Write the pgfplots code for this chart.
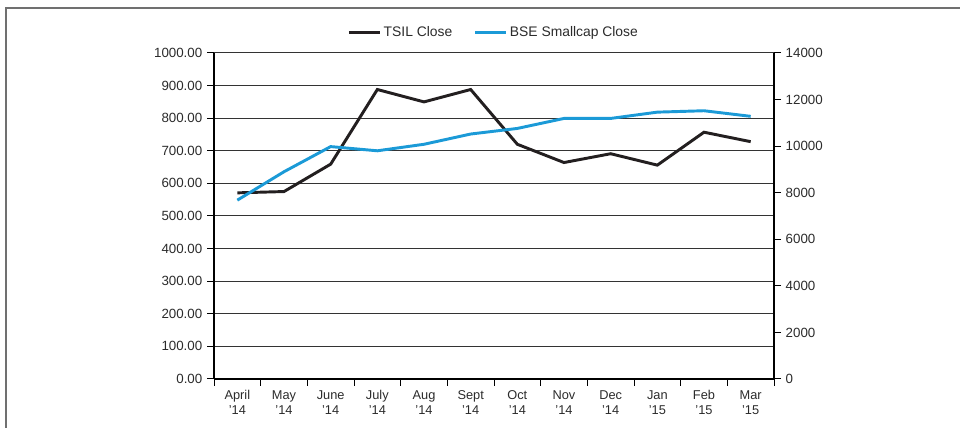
\documentclass[border=0pt]{standalone}
\usepackage{pgfplots}
\pgfplotsset{compat=1.18}
\usepackage{fontspec}
\setmainfont{Liberation Sans}
\definecolor{tsil}{HTML}{231F20}
\definecolor{bse}{HTML}{1B9AD7}
\definecolor{txt}{HTML}{2B2B2B}
\definecolor{frame}{HTML}{707070}
\begin{document}
\begin{tikzpicture}
\begin{scope}[x=0.75pt,y=0.75pt]
\useasboundingbox (0,0) rectangle (960,428);
\draw[color=frame, line width=1.5pt] (6,0) -- (6,420) -- (960,420);
\end{scope}
\begin{axis}[
  at={(160.5pt,36.75pt)}, anchor=south west,
  scale only axis, width=420pt, height=244.5pt,
  xmin=0.5, xmax=12.5, ymin=0, ymax=1000,
  axis x line*=bottom, axis y line*=left,
  axis line style={line width=0.9pt, black},
  xtick={0.5,1.5,...,12.5},
  x tick label as interval=true,
  xticklabels={{April\\’14},{May\\’14},{June\\’14},{July\\’14},{Aug\\’14},{Sept\\’14},{Oct\\’14},{Nov\\’14},{Dec\\’14},{Jan\\’15},{Feb\\’15},{Mar\\’15}},
  xticklabel style={align=center, font=\fontsize{9.6pt}{11.2pt}\selectfont, text=txt},
  ytick={0,100,...,1000},
  yticklabel style={font=\fontsize{10pt}{11pt}\selectfont, text=txt},
  scaled y ticks=false,
  /pgf/number format/.cd, fixed, fixed zerofill, precision=2, 1000 sep={}, assume math mode=true,
  /pgfplots/.cd,
  tick align=outside, major tick length=5.25pt,
  tick style={black, line width=0.75pt},
  ymajorgrids, grid style={color=black!80, line width=0.75pt},
  legend columns=2,
  legend style={at={(0.5,1)}, anchor=south, yshift=7pt, draw=none, fill=none,
    font=\fontsize{10.4pt}{11pt}\selectfont, text=txt,
    /tikz/every even column/.append style={column sep=14pt}},
  legend image code/.code={\draw[#1] (0pt,0pt) -- (23pt,0pt);},
]
\addplot[tsil, line width=2.2pt] coordinates {
(1,571) (2,575) (3,659) (4,888) (5,850) (6,888) (7,720) (8,664) (9,691) (10,656) (11,757) (12,728)};
\addlegendentry{TSIL Close}
\addlegendimage{bse, line width=2.2pt}
\addlegendentry{BSE Smallcap Close}
\end{axis}
\begin{axis}[
  at={(160.5pt,36.75pt)}, anchor=south west,
  scale only axis, width=420pt, height=244.5pt,
  xmin=0.5, xmax=12.5, ymin=0, ymax=14000,
  axis x line=none, axis y line*=right,
  axis line style={line width=0.9pt, black},
  ytick={0,2000,...,14000},
  scaled y ticks=false,
  yticklabel style={font=\fontsize{10pt}{11pt}\selectfont, text=txt},
  /pgf/number format/.cd, fixed, 1000 sep={}, assume math mode=true,
  /pgfplots/.cd,
  tick align=outside, major tick length=5.25pt,
  tick style={black, line width=0.75pt},
]
\addplot[bse, line width=2.2pt] coordinates {
(1,7680) (2,8900) (3,9980) (4,9800) (5,10080) (6,10520) (7,10760) (8,11190) (9,11190) (10,11460) (11,11520) (12,11280)};
\end{axis}
\end{tikzpicture}
\end{document}
